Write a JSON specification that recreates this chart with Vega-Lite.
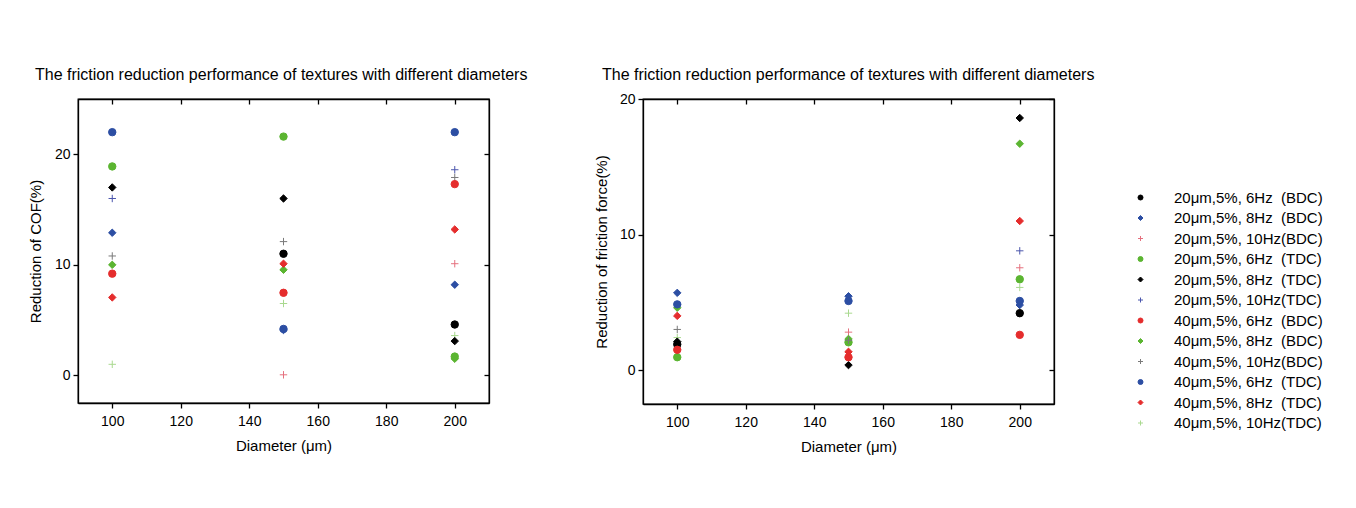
{
  "$schema": "https://vega.github.io/schema/vega-lite/v6.json",
  "padding": {"left": 27, "top": 66, "right": 0, "bottom": 0},
  "background": "white",
  "config": {
    "font": "Liberation Sans",
    "view": {"stroke": "black", "strokeWidth": 1.3},
    "axis": {"domainColor": "black", "domainWidth": 1.3, "tickColor": "black", "tickWidth": 1.3, "labelColor": "black", "titleColor": "black", "labelFontSize": 14, "titleFontSize": 15, "titleFontWeight": "normal", "grid": false, "labelFont": "Liberation Sans", "titleFont": "Liberation Sans"},
    "title": {"fontSize": 16, "fontWeight": "normal", "color": "black", "anchor": "start", "font": "Liberation Sans"},
    "legend": {"labelFontSize": 15, "labelColor": "black", "labelFont": "Liberation Sans"}
  },
  "datasets": {
    "pts": [
      {"p": "COF", "d": 100, "s": "40μm,5%, 6Hz\u00a0\u00a0(TDC)", "v": 22.0},
      {"p": "COF", "d": 100, "s": "20μm,5%, 6Hz\u00a0\u00a0(TDC)", "v": 18.9},
      {"p": "COF", "d": 100, "s": "20μm,5%, 8Hz\u00a0\u00a0(TDC)", "v": 17.0},
      {"p": "COF", "d": 100, "s": "20μm,5%, 10Hz(TDC)", "v": 16.0},
      {"p": "COF", "d": 100, "s": "20μm,5%, 8Hz\u00a0\u00a0(BDC)", "v": 12.9},
      {"p": "COF", "d": 100, "s": "40μm,5%, 10Hz(BDC)", "v": 10.8},
      {"p": "COF", "d": 100, "s": "40μm,5%, 8Hz\u00a0\u00a0(BDC)", "v": 10.0},
      {"p": "COF", "d": 100, "s": "40μm,5%, 6Hz\u00a0\u00a0(BDC)", "v": 9.2},
      {"p": "COF", "d": 100, "s": "40μm,5%, 8Hz\u00a0\u00a0(TDC)", "v": 7.05},
      {"p": "COF", "d": 100, "s": "40μm,5%, 10Hz(TDC)", "v": 1.0},
      {"p": "COF", "d": 150, "s": "20μm,5%, 6Hz\u00a0\u00a0(TDC)", "v": 21.6},
      {"p": "COF", "d": 150, "s": "20μm,5%, 8Hz\u00a0\u00a0(TDC)", "v": 16.0},
      {"p": "COF", "d": 150, "s": "40μm,5%, 10Hz(BDC)", "v": 12.1},
      {"p": "COF", "d": 150, "s": "20μm,5%, 6Hz\u00a0\u00a0(BDC)", "v": 11.0},
      {"p": "COF", "d": 150, "s": "40μm,5%, 8Hz\u00a0\u00a0(BDC)", "v": 9.55},
      {"p": "COF", "d": 150, "s": "40μm,5%, 8Hz\u00a0\u00a0(TDC)", "v": 10.1},
      {"p": "COF", "d": 150, "s": "40μm,5%, 6Hz\u00a0\u00a0(BDC)", "v": 7.47},
      {"p": "COF", "d": 150, "s": "40μm,5%, 10Hz(TDC)", "v": 6.5},
      {"p": "COF", "d": 150, "s": "40μm,5%, 6Hz\u00a0\u00a0(TDC)", "v": 4.2},
      {"p": "COF", "d": 150, "s": "20μm,5%, 8Hz\u00a0\u00a0(BDC)", "v": 4.1},
      {"p": "COF", "d": 150, "s": "20μm,5%, 10Hz(BDC)", "v": 0.05},
      {"p": "COF", "d": 200, "s": "40μm,5%, 6Hz\u00a0\u00a0(TDC)", "v": 22.0},
      {"p": "COF", "d": 200, "s": "20μm,5%, 10Hz(TDC)", "v": 18.6},
      {"p": "COF", "d": 200, "s": "40μm,5%, 10Hz(BDC)", "v": 17.9},
      {"p": "COF", "d": 200, "s": "40μm,5%, 6Hz\u00a0\u00a0(BDC)", "v": 17.3},
      {"p": "COF", "d": 200, "s": "40μm,5%, 8Hz\u00a0\u00a0(TDC)", "v": 13.2},
      {"p": "COF", "d": 200, "s": "20μm,5%, 10Hz(BDC)", "v": 10.1},
      {"p": "COF", "d": 200, "s": "20μm,5%, 8Hz\u00a0\u00a0(BDC)", "v": 8.2},
      {"p": "COF", "d": 200, "s": "20μm,5%, 6Hz\u00a0\u00a0(BDC)", "v": 4.6},
      {"p": "COF", "d": 200, "s": "40μm,5%, 10Hz(TDC)", "v": 3.6},
      {"p": "COF", "d": 200, "s": "20μm,5%, 8Hz\u00a0\u00a0(TDC)", "v": 3.1},
      {"p": "COF", "d": 200, "s": "40μm,5%, 8Hz\u00a0\u00a0(BDC)", "v": 1.5},
      {"p": "COF", "d": 200, "s": "20μm,5%, 6Hz\u00a0\u00a0(TDC)", "v": 1.7},
      {"p": "F", "d": 100, "s": "40μm,5%, 8Hz\u00a0\u00a0(BDC)", "v": 4.6},
      {"p": "F", "d": 100, "s": "20μm,5%, 8Hz\u00a0\u00a0(BDC)", "v": 5.7},
      {"p": "F", "d": 100, "s": "40μm,5%, 6Hz\u00a0\u00a0(TDC)", "v": 4.85},
      {"p": "F", "d": 100, "s": "40μm,5%, 8Hz\u00a0\u00a0(TDC)", "v": 4.0},
      {"p": "F", "d": 100, "s": "40μm,5%, 10Hz(BDC)", "v": 3.0},
      {"p": "F", "d": 100, "s": "40μm,5%, 10Hz(TDC)", "v": 2.4},
      {"p": "F", "d": 100, "s": "20μm,5%, 6Hz\u00a0\u00a0(BDC)", "v": 1.9},
      {"p": "F", "d": 100, "s": "20μm,5%, 8Hz\u00a0\u00a0(TDC)", "v": 2.1},
      {"p": "F", "d": 100, "s": "20μm,5%, 6Hz\u00a0\u00a0(TDC)", "v": 0.95},
      {"p": "F", "d": 100, "s": "40μm,5%, 6Hz\u00a0\u00a0(BDC)", "v": 1.5},
      {"p": "F", "d": 150, "s": "20μm,5%, 8Hz\u00a0\u00a0(BDC)", "v": 5.45},
      {"p": "F", "d": 150, "s": "40μm,5%, 6Hz\u00a0\u00a0(TDC)", "v": 5.1},
      {"p": "F", "d": 150, "s": "40μm,5%, 10Hz(TDC)", "v": 4.2},
      {"p": "F", "d": 150, "s": "20μm,5%, 10Hz(BDC)", "v": 2.8},
      {"p": "F", "d": 150, "s": "20μm,5%, 6Hz\u00a0\u00a0(TDC)", "v": 2.05},
      {"p": "F", "d": 150, "s": "40μm,5%, 8Hz\u00a0\u00a0(BDC)", "v": 2.3},
      {"p": "F", "d": 150, "s": "40μm,5%, 10Hz(BDC)", "v": 2.2},
      {"p": "F", "d": 150, "s": "20μm,5%, 8Hz\u00a0\u00a0(TDC)", "v": 0.37},
      {"p": "F", "d": 150, "s": "40μm,5%, 6Hz\u00a0\u00a0(BDC)", "v": 0.95},
      {"p": "F", "d": 150, "s": "40μm,5%, 8Hz\u00a0\u00a0(TDC)", "v": 1.35},
      {"p": "F", "d": 200, "s": "20μm,5%, 8Hz\u00a0\u00a0(TDC)", "v": 18.6},
      {"p": "F", "d": 200, "s": "40μm,5%, 8Hz\u00a0\u00a0(BDC)", "v": 16.7},
      {"p": "F", "d": 200, "s": "40μm,5%, 8Hz\u00a0\u00a0(TDC)", "v": 11.0},
      {"p": "F", "d": 200, "s": "20μm,5%, 10Hz(TDC)", "v": 8.8},
      {"p": "F", "d": 200, "s": "20μm,5%, 10Hz(BDC)", "v": 7.55},
      {"p": "F", "d": 200, "s": "20μm,5%, 6Hz\u00a0\u00a0(TDC)", "v": 6.7},
      {"p": "F", "d": 200, "s": "40μm,5%, 10Hz(TDC)", "v": 6.1},
      {"p": "F", "d": 200, "s": "20μm,5%, 6Hz\u00a0\u00a0(BDC)", "v": 4.2},
      {"p": "F", "d": 200, "s": "20μm,5%, 8Hz\u00a0\u00a0(BDC)", "v": 4.8},
      {"p": "F", "d": 200, "s": "40μm,5%, 6Hz\u00a0\u00a0(TDC)", "v": 5.1},
      {"p": "F", "d": 200, "s": "40μm,5%, 6Hz\u00a0\u00a0(BDC)", "v": 2.6}
    ]
  },
  "hconcat": [
    {
      "width": 411,
      "height": 304,
      "title": {"text": "The friction reduction performance of textures with different diameters", "frame": "group", "dx": -43, "offset": 15},
      "data": {"name": "pts"},
      "transform": [{"filter": "datum.p === 'COF'"}],
      "layer": [
        {
          "mark": {"type": "point", "filled": true, "strokeWidth": 1, "opacity": 1, "size": 55},
          "encoding": {
            "x": {"field": "d", "type": "quantitative", "scale": {"domain": [90, 210], "nice": false, "zero": false}, "axis": {"values": [100, 120, 140, 160, 180, 200], "title": "Diameter (μm)", "tickSize": 5, "labelPadding": 6, "titlePadding": 10}},
            "y": {"field": "v", "type": "quantitative", "scale": {"domain": [-2.5, 25], "nice": false, "zero": false}, "axis": {"values": [0, 10, 20], "title": "Reduction of COF(%)", "tickSize": 5, "labelPadding": 3, "titlePadding": 11}},
            "fill": {"field": "s", "type": "nominal", "scale": {"domain": ["20μm,5%, 6Hz\u00a0\u00a0(BDC)", "20μm,5%, 8Hz\u00a0\u00a0(BDC)", "20μm,5%, 10Hz(BDC)", "20μm,5%, 6Hz\u00a0\u00a0(TDC)", "20μm,5%, 8Hz\u00a0\u00a0(TDC)", "20μm,5%, 10Hz(TDC)", "40μm,5%, 6Hz\u00a0\u00a0(BDC)", "40μm,5%, 8Hz\u00a0\u00a0(BDC)", "40μm,5%, 10Hz(BDC)", "40μm,5%, 6Hz\u00a0\u00a0(TDC)", "40μm,5%, 8Hz\u00a0\u00a0(TDC)", "40μm,5%, 10Hz(TDC)"], "range": ["#000000", "#2c4ea3", "#e5707e", "#5bb531", "#000000", "#4b56ad", "#e52d2d", "#5bb531", "#7a7a7a", "#2c4ea3", "#e52d2d", "#a9d98f"]}, "legend": {"orient": "none", "legendX": 1055, "legendY": 91, "title": null, "symbolSize": 25, "rowPadding": 4.5, "labelOffset": 26, "symbolStrokeWidth": 1}},
            "stroke": {"field": "s", "type": "nominal", "scale": {"domain": ["20μm,5%, 6Hz\u00a0\u00a0(BDC)", "20μm,5%, 8Hz\u00a0\u00a0(BDC)", "20μm,5%, 10Hz(BDC)", "20μm,5%, 6Hz\u00a0\u00a0(TDC)", "20μm,5%, 8Hz\u00a0\u00a0(TDC)", "20μm,5%, 10Hz(TDC)", "40μm,5%, 6Hz\u00a0\u00a0(BDC)", "40μm,5%, 8Hz\u00a0\u00a0(BDC)", "40μm,5%, 10Hz(BDC)", "40μm,5%, 6Hz\u00a0\u00a0(TDC)", "40μm,5%, 8Hz\u00a0\u00a0(TDC)", "40μm,5%, 10Hz(TDC)"], "range": ["#000000", "#2c4ea3", "#e5707e", "#5bb531", "#000000", "#4b56ad", "#e52d2d", "#5bb531", "#7a7a7a", "#2c4ea3", "#e52d2d", "#a9d98f"]}, "legend": {"orient": "none", "legendX": 1055, "legendY": 91, "title": null, "symbolSize": 25, "rowPadding": 4.5, "labelOffset": 26, "symbolStrokeWidth": 1}},
            "shape": {"field": "s", "type": "nominal", "scale": {"domain": ["20μm,5%, 6Hz\u00a0\u00a0(BDC)", "20μm,5%, 8Hz\u00a0\u00a0(BDC)", "20μm,5%, 10Hz(BDC)", "20μm,5%, 6Hz\u00a0\u00a0(TDC)", "20μm,5%, 8Hz\u00a0\u00a0(TDC)", "20μm,5%, 10Hz(TDC)", "40μm,5%, 6Hz\u00a0\u00a0(BDC)", "40μm,5%, 8Hz\u00a0\u00a0(BDC)", "40μm,5%, 10Hz(BDC)", "40μm,5%, 6Hz\u00a0\u00a0(TDC)", "40μm,5%, 8Hz\u00a0\u00a0(TDC)", "40μm,5%, 10Hz(TDC)"], "range": ["circle", "diamond", "M-1,0L1,0M0,-1L0,1", "circle", "diamond", "M-1,0L1,0M0,-1L0,1", "circle", "diamond", "M-1,0L1,0M0,-1L0,1", "circle", "diamond", "M-1,0L1,0M0,-1L0,1"]}, "legend": {"orient": "none", "legendX": 1055, "legendY": 91, "title": null, "symbolSize": 25, "rowPadding": 4.5, "labelOffset": 26, "symbolStrokeWidth": 1}}
          }
        },
        {
          "mark": {"type": "point", "opacity": 0},
          "encoding": {
            "x": {"field": "d", "type": "quantitative", "scale": {"domain": [90, 210], "nice": false, "zero": false}, "axis": {"orient": "top", "values": [100, 120, 140, 160, 180, 200], "labels": false, "title": null, "tickSize": -5}},
            "y": {"field": "v", "type": "quantitative", "scale": {"domain": [-2.5, 25], "nice": false, "zero": false}, "axis": {"orient": "right", "values": [0, 10, 20], "labels": false, "title": null, "tickSize": -5}}
          }
        }
      ],
      "resolve": {"axis": {"x": "independent", "y": "independent"}}
    },
    {
      "width": 411,
      "height": 305,
      "title": {"text": "The friction reduction performance of textures with different diameters", "frame": "group", "dx": -41, "offset": 9},
      "data": {"name": "pts"},
      "transform": [{"filter": "datum.p === 'F'"}],
      "layer": [
        {
          "mark": {"type": "point", "filled": true, "strokeWidth": 1, "opacity": 1, "size": 55},
          "encoding": {
            "x": {"field": "d", "type": "quantitative", "scale": {"domain": [90, 210], "nice": false, "zero": false}, "axis": {"values": [100, 120, 140, 160, 180, 200], "title": "Diameter (μm)", "tickSize": 5, "labelPadding": 6, "titlePadding": 10}},
            "y": {"field": "v", "type": "quantitative", "scale": {"domain": [-2.5, 20], "nice": false, "zero": false}, "axis": {"values": [0, 10, 20], "title": "Reduction of friction force(%)", "tickSize": 5, "labelPadding": 3, "titlePadding": 10}},
            "fill": {"field": "s", "type": "nominal", "scale": {"domain": ["20μm,5%, 6Hz\u00a0\u00a0(BDC)", "20μm,5%, 8Hz\u00a0\u00a0(BDC)", "20μm,5%, 10Hz(BDC)", "20μm,5%, 6Hz\u00a0\u00a0(TDC)", "20μm,5%, 8Hz\u00a0\u00a0(TDC)", "20μm,5%, 10Hz(TDC)", "40μm,5%, 6Hz\u00a0\u00a0(BDC)", "40μm,5%, 8Hz\u00a0\u00a0(BDC)", "40μm,5%, 10Hz(BDC)", "40μm,5%, 6Hz\u00a0\u00a0(TDC)", "40μm,5%, 8Hz\u00a0\u00a0(TDC)", "40μm,5%, 10Hz(TDC)"], "range": ["#000000", "#2c4ea3", "#e5707e", "#5bb531", "#000000", "#4b56ad", "#e52d2d", "#5bb531", "#7a7a7a", "#2c4ea3", "#e52d2d", "#a9d98f"]}, "legend": {"orient": "none", "legendX": 1055, "legendY": 91, "title": null, "symbolSize": 25, "rowPadding": 4.5, "labelOffset": 26, "symbolStrokeWidth": 1}},
            "stroke": {"field": "s", "type": "nominal", "scale": {"domain": ["20μm,5%, 6Hz\u00a0\u00a0(BDC)", "20μm,5%, 8Hz\u00a0\u00a0(BDC)", "20μm,5%, 10Hz(BDC)", "20μm,5%, 6Hz\u00a0\u00a0(TDC)", "20μm,5%, 8Hz\u00a0\u00a0(TDC)", "20μm,5%, 10Hz(TDC)", "40μm,5%, 6Hz\u00a0\u00a0(BDC)", "40μm,5%, 8Hz\u00a0\u00a0(BDC)", "40μm,5%, 10Hz(BDC)", "40μm,5%, 6Hz\u00a0\u00a0(TDC)", "40μm,5%, 8Hz\u00a0\u00a0(TDC)", "40μm,5%, 10Hz(TDC)"], "range": ["#000000", "#2c4ea3", "#e5707e", "#5bb531", "#000000", "#4b56ad", "#e52d2d", "#5bb531", "#7a7a7a", "#2c4ea3", "#e52d2d", "#a9d98f"]}, "legend": {"orient": "none", "legendX": 1055, "legendY": 91, "title": null, "symbolSize": 25, "rowPadding": 4.5, "labelOffset": 26, "symbolStrokeWidth": 1}},
            "shape": {"field": "s", "type": "nominal", "scale": {"domain": ["20μm,5%, 6Hz\u00a0\u00a0(BDC)", "20μm,5%, 8Hz\u00a0\u00a0(BDC)", "20μm,5%, 10Hz(BDC)", "20μm,5%, 6Hz\u00a0\u00a0(TDC)", "20μm,5%, 8Hz\u00a0\u00a0(TDC)", "20μm,5%, 10Hz(TDC)", "40μm,5%, 6Hz\u00a0\u00a0(BDC)", "40μm,5%, 8Hz\u00a0\u00a0(BDC)", "40μm,5%, 10Hz(BDC)", "40μm,5%, 6Hz\u00a0\u00a0(TDC)", "40μm,5%, 8Hz\u00a0\u00a0(TDC)", "40μm,5%, 10Hz(TDC)"], "range": ["circle", "diamond", "M-1,0L1,0M0,-1L0,1", "circle", "diamond", "M-1,0L1,0M0,-1L0,1", "circle", "diamond", "M-1,0L1,0M0,-1L0,1", "circle", "diamond", "M-1,0L1,0M0,-1L0,1"]}, "legend": {"orient": "none", "legendX": 1055, "legendY": 91, "title": null, "symbolSize": 25, "rowPadding": 4.5, "labelOffset": 26, "symbolStrokeWidth": 1}}
          }
        },
        {
          "mark": {"type": "point", "opacity": 0},
          "encoding": {
            "x": {"field": "d", "type": "quantitative", "scale": {"domain": [90, 210], "nice": false, "zero": false}, "axis": {"orient": "top", "values": [100, 120, 140, 160, 180, 200], "labels": false, "title": null, "tickSize": -5}},
            "y": {"field": "v", "type": "quantitative", "scale": {"domain": [-2.5, 20], "nice": false, "zero": false}, "axis": {"orient": "right", "values": [0, 10, 20], "labels": false, "title": null, "tickSize": -5}}
          }
        }
      ],
      "resolve": {"axis": {"x": "independent", "y": "independent"}}
    }
  ],
  "spacing": 64,
  "resolve": {"scale": {"fill": "shared", "stroke": "shared", "shape": "shared"}}
}
